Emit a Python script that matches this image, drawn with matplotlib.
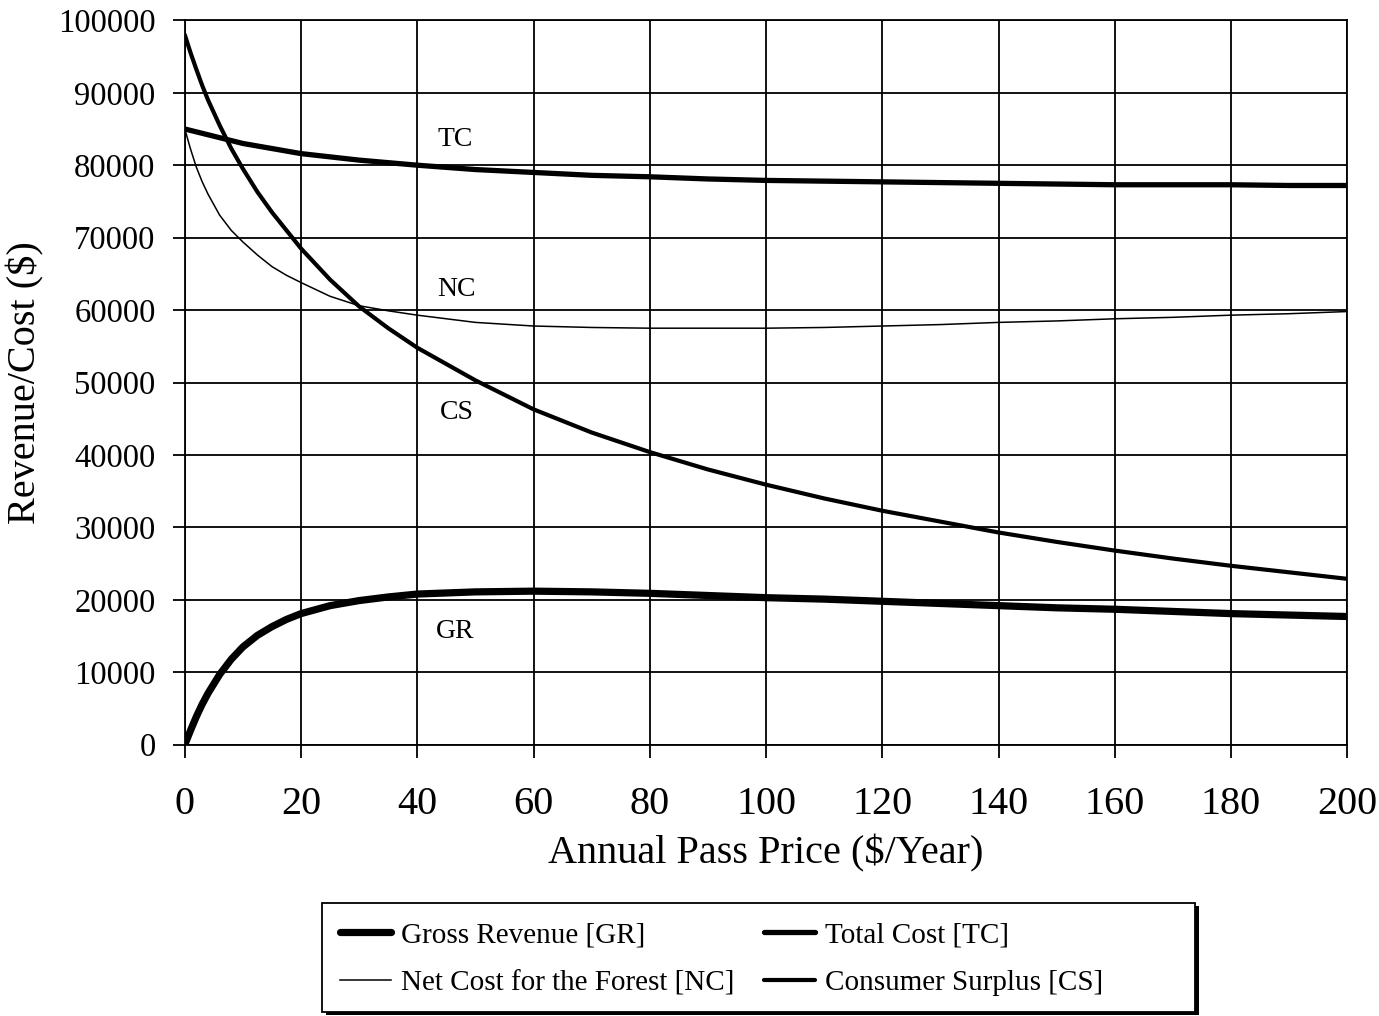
import matplotlib
matplotlib.use("Agg")
import matplotlib.pyplot as plt
from matplotlib.patches import Rectangle

plt.rcParams['font.family'] = ['Liberation Serif', 'DejaVu Serif']

# annual pass price ($/year)
price = [0, 1, 2, 3, 4, 6, 8, 10, 12.5, 15, 17.5, 20, 25, 30, 35, 40,
         50, 60, 70, 80, 90, 100, 110, 120, 130, 140, 150, 160, 170, 180, 190, 200]

gross_revenue = [0, 2000, 3900, 5600, 7100, 9700, 11800, 13500, 15100, 16300, 17300,
                 18100, 19200, 19900, 20400, 20800, 21100, 21200, 21100, 20900, 20600,
                 20300, 20100, 19800, 19500, 19200, 18900, 18700, 18400, 18100, 17900, 17700]

total_cost = [85000, 84800, 84600, 84400, 84200, 83800, 83400, 83000, 82650, 82300, 81950,
              81600, 81150, 80700, 80350, 80000, 79400, 79000, 78600, 78400, 78100,
              77900, 77800, 77700, 77600, 77500, 77400, 77300, 77300, 77300, 77200, 77200]

net_cost = [85000, 82200, 79700, 77700, 76000, 73100, 71000, 69400, 67600, 66000, 64800,
            63800, 61900, 60600, 59900, 59300, 58300, 57800, 57600, 57500, 57500,
            57500, 57600, 57800, 58000, 58300, 58500, 58800, 59000, 59300, 59500, 59800]

consumer_surplus = [98000, 95500, 93200, 91000, 89000, 85500, 82300, 79500, 76300, 73500,
                    71000, 68500, 64200, 60500, 57500, 54800, 50300, 46300, 43100, 40400,
                    38000, 35900, 34000, 32300, 30800, 29300, 28000, 26800, 25700, 24700,
                    23800, 22900]

curve_tags = ['TC', 'NC', 'CS', 'GR']
tag_x = [46.5, 46.8, 46.8, 46.6]
tag_y = [83500, 62800, 45900, 15600]

fig = plt.figure(figsize=(13.79, 10.16), dpi=100)
ax = fig.add_axes([0.134, 0.267, 0.843, 0.713])

l_gr, = ax.plot(price, gross_revenue, color='black', lw=5.2,
                solid_capstyle='round', label='Gross Revenue [GR]', zorder=5)
l_tc, = ax.plot(price, total_cost, color='black', lw=3.8,
                solid_capstyle='round', label='Total Cost [TC]', zorder=5)
l_nc, = ax.plot(price, net_cost, color='black', lw=1.1,
                label='Net Cost for the Forest [NC]', zorder=5)
l_cs, = ax.plot(price, consumer_surplus, color='black', lw=3.0,
                solid_capstyle='round', label='Consumer Surplus [CS]', zorder=5)

for tag, tx, ty in zip(curve_tags, tag_x, tag_y):
    ax.text(tx, ty, tag, fontsize=20, ha='center', va='center')

ax.set_xlim(0, 200)
ax.set_ylim(0, 100000)
ax.set_xticks(range(0, 201, 20))
ax.set_yticks(range(0, 100001, 10000))
ax.grid(True, color='black', lw=1.3)
ax.set_axisbelow(True)
for sp in ax.spines.values():
    sp.set_color('black')
    sp.set_linewidth(1.3)

ax.tick_params(axis='x', direction='out', length=9, width=1.3, pad=21, labelsize=29)
ax.tick_params(axis='y', direction='out', length=9, width=1.3, pad=12, labelsize=23.5)

ax.set_xlabel('Annual Pass Price ($/Year)', fontsize=29, labelpad=8)
ax.set_ylabel('Revenue/Cost ($)', fontsize=29, labelpad=10)

# legend box with a solid drop shadow on the right/bottom
box_x, box_y, box_w, box_h = 0.2335, 0.004, 0.633, 0.107
fig.add_artist(Rectangle((box_x + 0.003, box_y - 0.003), box_w, box_h,
                         transform=fig.transFigure, facecolor='black',
                         edgecolor='none', zorder=1))
fig.add_artist(Rectangle((box_x, box_y), box_w, box_h,
                         transform=fig.transFigure, facecolor='white',
                         edgecolor='black', lw=1.3, zorder=2))

leg = fig.legend(handles=[l_gr, l_nc, l_tc, l_cs], loc='center left',
                 bbox_to_anchor=(0.2465, 0.056), ncol=2, fontsize=21,
                 frameon=False, handlelength=1.75, handletextpad=0.35,
                 columnspacing=1.0, borderpad=0, labelspacing=0.75,
                 borderaxespad=0)
leg.set_zorder(3)

fig.savefig('out.png', dpi=100)
